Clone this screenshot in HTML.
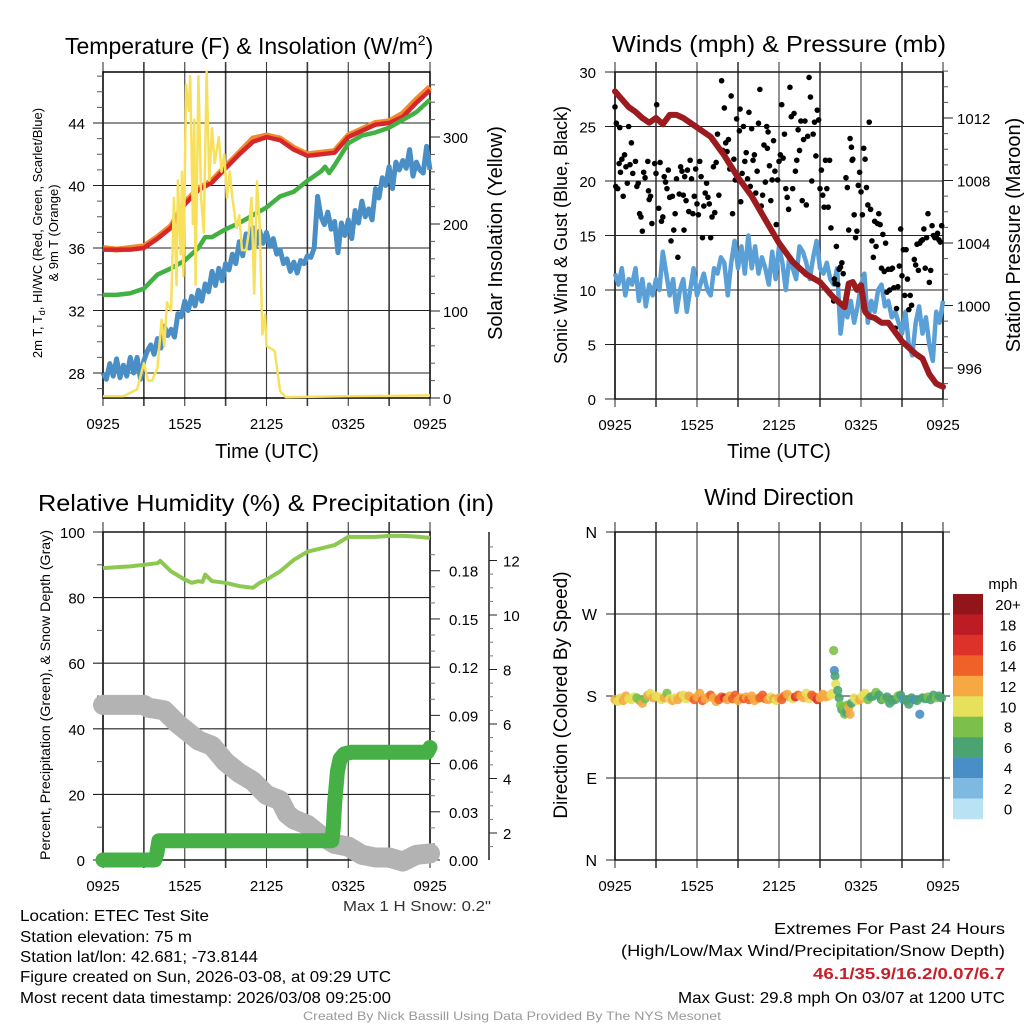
<!DOCTYPE html>
<html><head><meta charset="utf-8"><style>
html,body{margin:0;padding:0;background:#fff;}
svg{display:block;font-family:"Liberation Sans",Arial,sans-serif;}
</style></head><body>
<svg id="c" width="1024" height="1024" viewBox="0 0 1024 1024" xmlns="http://www.w3.org/2000/svg"></svg>
<script>
// ---------- DATA ----------
const tempH=[0,1,2,3,4,5,6,7,8,9,10,11,12,13,14,15,16,17,18,19,20,21,22,23,24];
const tempRed=[35.9,35.9,35.9,36.0,36.6,37.3,38.8,39.7,40.2,41.1,42.0,42.8,43.1,42.9,42.3,41.9,42.0,42.1,43.1,43.5,43.9,44.0,44.4,45.3,46.1];
const tempOrange=[36.0,35.9,36.0,36.1,36.7,37.4,38.9,39.8,40.3,41.2,42.1,43.0,43.2,43.0,42.4,42.0,42.1,42.2,43.2,43.6,44.0,44.1,44.6,45.5,46.3];
const greenH=[0,1,2,3,4,5,6,7,7.5,8,9,10,11,12,13,14,15,16,16.3,16.6,17,18,19,20,21,22,23,24];
const tempGreen=[33.0,33.0,33.1,33.4,34.3,34.7,35.2,36.0,36.7,36.7,37.2,37.6,38.1,38.6,39.3,39.6,40.3,40.9,41.2,40.8,41.3,42.7,43.2,43.4,43.7,44.2,44.7,45.5];
const blueH=[0,0.25,0.5,0.75,1,1.25,1.5,1.75,2,2.25,2.5,2.75,3,3.25,3.5,3.75,4,4.25,4.5,4.75,5,5.25,5.5,5.75,6,6.25,6.5,6.75,7,7.25,7.5,7.75,8,8.25,8.5,8.75,9,9.25,9.5,9.75,10,10.25,10.5,10.75,11,11.25,11.5,11.75,12,12.25,12.5,12.75,13,13.25,13.5,13.75,14,14.25,14.5,14.75,15,15.25,15.5,15.75,16,16.25,16.5,16.75,17,17.25,17.5,17.75,18,18.25,18.5,18.75,19,19.25,19.5,19.75,20,20.25,20.5,20.75,21,21.25,21.5,21.75,22,22.25,22.5,22.75,23,23.25,23.5,23.75,24];
const tempBlue=[28.0,27.6,28.6,27.8,28.9,27.7,28.5,27.8,29.0,28.0,29.0,27.6,28.8,29.4,29.8,29.2,30.2,29.6,31.0,30.4,30.8,30.3,31.8,31.6,32.6,32.0,32.9,32.3,33.3,32.6,33.7,33.2,34.5,33.6,34.7,33.9,35.0,34.6,35.6,35.0,36.4,35.5,36.9,36.0,37.3,36.2,37.1,36.3,37.0,36.1,36.6,35.6,35.9,35.0,35.3,34.5,35.1,34.4,35.2,35.0,35.5,35.4,36.0,39.3,38.0,37.5,38.3,37.2,37.7,35.7,37.6,36.8,37.8,36.6,38.4,37.6,39.0,38.0,38.5,37.8,39.8,39.2,40.5,40.0,41.2,39.8,41.5,41.0,41.6,41.1,42.3,40.6,41.5,41.0,40.8,42.5,41.0,42.3,42.0];
const solarH=[0,1.5,2.5,3.0,3.3,3.6,4.0,4.3,4.5,4.7,5.0,5.2,5.4,5.5,5.7,5.8,5.9,6.1,6.3,6.4,6.6,6.7,6.8,7.0,7.2,7.4,7.6,7.8,8.0,8.2,8.5,8.7,8.9,9.1,9.3,9.5,9.8,10.0,10.2,10.5,10.7,10.9,11.1,11.3,11.5,11.7,11.9,12.0,12.6,13.0,13.4,18,24];
const solarW=[2,2,10,40,20,20,35,90,60,110,100,230,130,250,165,260,140,360,330,370,200,320,130,370,230,190,375,250,310,270,300,260,280,230,260,230,195,210,170,170,190,230,120,249,200,73,96,60,54,8,1,2,3];
const windH=[0,0.25,0.5,0.75,1,1.25,1.5,1.75,2,2.25,2.5,2.75,3,3.25,3.5,3.75,4,4.25,4.5,4.75,5,5.25,5.5,5.75,6,6.25,6.5,6.75,7,7.25,7.5,7.75,8,8.25,8.5,8.75,9,9.25,9.5,9.75,10,10.25,10.5,10.75,11,11.25,11.5,11.75,12,12.25,12.5,12.75,13,13.25,13.5,13.75,14,14.25,14.5,14.75,15,15.25,15.5,15.75,16,16.25,16.5,16.75,17,17.25,17.5,17.75,18,18.25,18.5,18.75,19,19.25,19.5,19.75,20,20.25,20.5,20.75,21,21.25,21.5,21.75,22,22.25,22.5,22.75,23,23.25,23.5,23.75,24];
const windV=[11.5,10.5,12,9.5,11,10.5,12,9,11,8.5,10.5,9.5,11,10,13.5,11.5,9.5,11,8,10,11,8,10,12,9.5,10.5,11.5,10,9.5,12,11.5,13,12.5,9.5,12.5,14.5,12,14,11.5,15,12,14,11.5,13,12,10.5,13.5,11,14,12.5,10,13,12,11,14,13.5,12.5,11,13,14.5,12,11.5,12.5,11,10.5,12,6,8.5,7.5,9,7,8.5,10.5,11.5,7,9,8,10,10.5,8.5,9,7.5,8,7,6,8,5,4,7,8.5,6,7.5,5,3.5,8,7,9,10,6];
const presH=[0,0.5,1,1.5,2,2.5,3,3.5,4,4.5,5,6,7,8,9,10,11,12,13,14,15,16,16.8,17.1,17.4,17.7,18,18.3,18.6,19,19.5,20,21,22,22.5,23,23.5,24];
const presV=[1013.7,1013.2,1012.7,1012.4,1012.0,1011.7,1012.0,1011.6,1012.2,1012.2,1012.0,1011.4,1010.8,1009.6,1008.2,1007.0,1005.5,1004.0,1002.8,1002.0,1001.5,1000.5,999.9,1001.4,1001.5,1001.0,1001.3,999.6,999.3,999.2,998.9,998.9,997.7,996.9,996.6,995.6,995.0,994.8];
const gustH=[0,0.05,0.1,0.2,0.3,0.35,0.4,0.5,0.6,0.7,0.8,0.9,1.0,1.1,1.2,1.3,1.5,1.6,1.7,1.8,1.9,2.0,2.1,2.2,2.4,2.45,2.5,2.6,2.7,2.9,3.0,3.05,3.2,3.3,3.4,3.5,3.6,3.7,3.8,3.9,4.0,4.1,4.2,4.3,4.4,4.5,4.6,4.7,4.8,4.9,5.0,5.05,5.1,5.2,5.3,5.4,5.5,5.6,5.7,5.8,5.9,6.0,6.1,6.2,6.3,6.4,6.5,6.6,6.7,6.8,6.9,7.0,7.1,7.2,7.3,7.4,7.5,7.6,7.8,7.9,8.0,8.1,8.2,8.3,8.4,8.5,8.6,8.7,8.8,8.9,9.0,9.1,9.15,9.2,9.3,9.4,9.5,9.6,9.7,9.8,9.9,10.0,10.1,10.2,10.3,10.4,10.5,10.6,10.7,10.8,10.9,11.0,11.1,11.15,11.2,11.3,11.4,11.5,11.6,11.7,11.8,11.9,12.0,12.1,12.2,12.3,12.4,12.5,12.6,12.7,12.8,12.9,13.0,13.1,13.2,13.3,13.4,13.5,13.6,13.7,13.8,13.9,14.0,14.1,14.2,14.3,14.4,14.5,14.6,14.7,14.8,14.9,15.0,15.1,15.2,15.3,15.4,15.5,15.6,15.7,15.8,16.0,16.05,16.1,16.2,16.3,16.4,16.5,16.6,16.7,16.9,17.0,17.1,17.2,17.3,17.35,17.4,17.5,17.6,17.7,17.8,17.9,18.0,18.1,18.2,18.3,18.4,18.5,18.6,18.7,18.8,18.9,19.0,19.1,19.2,19.3,19.4,19.5,19.6,19.7,19.8,19.9,20.0,20.1,20.2,20.3,20.4,20.5,20.6,20.7,20.8,20.9,21.0,21.1,21.2,21.3,21.4,21.5,21.6,21.7,21.9,22.0,22.1,22.2,22.3,22.4,22.5,22.6,22.7,22.8,22.9,23.0,23.1,23.2,23.3,23.4,23.5,23.6,23.7,23.8,23.9];
const gustV=[26.8,19.5,25.3,19.3,21.6,24.9,20.8,22.0,18.6,22.4,21.3,19.8,25.0,21.5,23.5,20.7,21.8,19.5,19.8,17.0,16.7,15.4,20.8,20.3,21.8,19.1,18.3,18.6,16.1,21.6,20.7,27.0,17.5,21.7,16.3,16.7,20.4,19.9,19.3,21.0,18.5,14.5,18.6,15.5,17.0,20.2,13.0,18.8,21.3,20.9,18.7,15.5,20.4,18.2,21.0,17.2,21.9,20.2,17.0,18.6,21.1,17.9,16.9,21.8,20.4,14.8,17.7,18.9,19.8,18.5,17.9,14.8,16.7,21.3,17.1,21.7,24.3,18.7,29.2,22.8,26.7,23.5,22.7,23.8,21.1,27.8,17.0,22.0,20.1,25.7,20.1,24.6,26.6,18.1,20.7,25.0,21.8,22.6,20.2,26.3,19.5,24.8,21.9,22.4,18.9,20.9,25.3,28.4,17.7,18.7,23.3,19.9,25.0,23.0,24.5,21.4,18.2,20.1,23.7,20.9,16.0,20.1,21.8,22.4,27.0,22.1,24.3,19.3,18.5,17.4,28.6,25.9,19.3,26.2,20.9,21.9,24.7,22.8,25.5,18.2,23.8,25.5,17.8,24.1,29.5,27.7,20.0,24.3,25.4,22.3,26.5,25.6,19.3,21.0,18.7,17.6,21.9,19.3,17.6,21.9,15.7,9.0,11.0,10.6,14.0,10.5,11.9,12.1,12.5,11.5,20.3,19.4,15.5,23.9,23.1,21.9,22.0,16.9,14.8,15.4,19.6,20.8,19.0,16.9,23.0,22.0,19.4,17.8,25.4,17.4,14.5,13.0,16.3,14.0,16.1,17.0,16.0,12.0,15.1,11.7,14.3,9.8,11.9,10.0,11.9,12.0,10.2,6.5,8.3,10.3,12.2,15.6,11.3,13.7,9.5,13.7,11.0,8.2,9.5,8.6,12.8,12.3,14.2,11.8,14.3,14.5,14.6,15.6,12.0,14.8,17.0,10.7,11.8,15.9,15.0,14.8,14.9,15.2,14.6,14.4,15.9];
const rhH=[0,2,3,4,4.2,5,6,6.5,7,7.3,7.5,8,9,10,11,11.5,12,13,14,15,16,17,18,19,20,21,22,23,24];
const rhV=[89,89.5,90,90.5,91.2,88,85.5,84.5,85,84.8,87,85,84.5,83.5,83,84.5,85.5,88,91.5,94,95,96,98.5,98.5,98.5,98.8,98.8,98.6,98.2];
const prH=[0,3.8,3.95,4.1,16.8,16.9,17.0,17.1,17.2,17.4,17.7,18.2,23.8,24];
const prV=[0,0,0.004,0.012,0.012,0.02,0.035,0.045,0.055,0.063,0.066,0.067,0.067,0.07];
const snH=[0,3,3.3,4.5,5.5,7,8,9,10,11,12,13,13.5,14,15,16,17,18,19,20,21,22,23,24];
const snV=[6.7,6.7,6.6,6.5,6.0,5.4,5.2,4.6,4.2,3.9,3.4,3.2,2.7,2.5,2.3,1.9,1.6,1.5,1.2,1.1,1.1,0.95,1.2,1.25];
const dirH=[0,0.2,0.4,0.6,0.8,1.0,1.2,1.4,1.6,1.8,2.0,2.2,2.4,2.6,2.8,3.0,3.2,3.4,3.6,3.8,4.0,4.2,4.4,4.6,4.8,5.0,5.2,5.4,5.6,5.8,6.0,6.2,6.4,6.6,6.8,7.0,7.2,7.4,7.6,7.8,8.0,8.2,8.4,8.6,8.8,9.0,9.2,9.4,9.6,9.8,10.0,10.2,10.4,10.6,10.8,11.0,11.2,11.4,11.6,11.8,12.0,12.2,12.4,12.6,12.8,13.0,13.2,13.4,13.6,13.8,14.0,14.2,14.4,14.6,14.8,15.0,15.2,15.4,15.6,15.8,15.9,16.0,16.05,16.1,16.15,16.3,16.4,16.5,16.6,16.7,16.8,16.9,17.0,17.1,17.2,17.3,17.5,17.7,17.9,18.1,18.3,18.5,18.7,18.9,19.1,19.3,19.5,19.7,19.9,20.1,20.3,20.5,20.7,20.9,21.1,21.3,21.5,21.7,21.9,22.1,22.3,22.5,22.7,22.9,23.1,23.3,23.5,23.7,23.9];
const dirD=[176,174,178,175,180,177,176,179,178,175,172,177,181,183,178,180,179,176,178,183,177,175,178,176,180,181,177,180,178,176,179,183,175,177,179,181,178,174,176,179,178,176,180,177,181,175,178,177,179,176,180,175,177,178,181,177,176,179,177,175,178,176,180,182,179,177,179,181,180,178,183,177,181,179,176,178,182,179,180,181,183,230,208,202,193,186,178,170,165,168,160,162,170,167,160,172,178,175,176,180,183,176,179,180,184,181,176,177,179,172,175,176,180,181,176,175,171,178,176,175,160,178,177,179,176,181,178,180,178];
const dirS=[12,11,10,12,12,10,11,10,8,9,12,8,12,10,12,11,10,10,12,9,11,12,10,12,12,10,11,12,13,14,12,12,15,13,12,14,13,12,14,15,16,12,13,15,14,12,13,14,12,15,13,12,12,15,14,15,13,11,12,10,12,14,15,13,12,11,16,15,13,12,11,10,14,15,16,13,12,12,12,11,10,8,4,6,11,6,7,8,6,9,8,7,8,12,12,6,10,11,12,10,11,8,6,7,8,6,7,8,7,6,6,7,8,6,4,7,6,7,5,6,4,7,7,8,7,6,8,7,7];
const cbLabels=["20+","18","16","14","12","10","8","6","4","2","0"];
const cbColors=["#921519","#bd1c24","#dc3229","#ef6128","#f6a843","#e6e05a","#7cc04b","#4aa472","#4a8ec6","#7eb9e2","#b9e2f5"];
const xTickLabels=["0925","1525","2125","0325","0925"];
const tempTicks=[28,32,36,40,44];
const solarTicks=[0,100,200,300];
const windTicks=[0,5,10,15,20,25,30];
const presTicks=[996,1000,1004,1008,1012];
const rhTicks=[0,20,40,60,80,100];
const prTicks=[0,0.03,0.06,0.09,0.12,0.15,0.18];
const snTicks=[2,4,6,8,10,12];
const dirTicks=[0,90,180,270,360];
const dirLabels=["N","E","S","W","N"];

// ---------- HELPERS ----------
const NS="http://www.w3.org/2000/svg";
const svg=document.getElementById('c');
function mk(tag,at,parent){const e=document.createElementNS(NS,tag);for(const k in at)e.setAttribute(k,at[k]);(parent||svg).appendChild(e);return e;}
function txt(s,at,parent){const e=mk('text',at,parent);e.textContent=s;return e;}
function poly(xs,ys,fx,fy){return xs.map((h,i)=>fx(h).toFixed(1)+','+fy(ys[i]).toFixed(1)).join(' ');}

// scales
const X1=h=>103+h*13.625, T1=v=>373-(v-28)*15.625, S1=w=>398-w*0.87;
const X2=h=>615+h*13.667, W2=v=>399-v*10.9, P2=p=>118+(1012-p)*15.625;
const RH3=v=>860-v*3.28, PR3=v=>860-v*1607, SN3=v=>833-(v-2)*27.25;
const D4=d=>860-d*0.9111;

function frame(x0,x1,y0,y1,Xf,name){
  const g=mk('g',{});
  
  
  for(let h=0;h<=24;h+=3){const x=Xf(h);
    mk('line',{x1:x,y1:y0-10,x2:x,y2:y1+8,stroke:'#3a3a3a','stroke-width':h%6?1.6:1.1},g);}
  mk('rect',{x:x0,y:y0,width:x1-x0,height:y1-y0,fill:'none',stroke:'#000','stroke-width':1.5},g);
  xTickLabels.forEach((l,i)=>{const t=txt(l,{x:Xf(i*6),y:y1+31,'text-anchor':'middle','font-size':15},g);
    
    });
}

// ---------- PANEL 1 ----------
frame(103,430,72,398,X1,'temp-panel');
tempTicks.forEach(v=>{mk('line',{x1:93,x2:430,y1:T1(v),y2:T1(v),stroke:'#222','stroke-width':1.1});
  const t=txt(v,{x:85,y:T1(v)+6,'text-anchor':'end','font-size':15});
  
  });
for(let v=27;v<=47;v++){if(v%4)mk('line',{x1:97,x2:103,y1:T1(v),y2:T1(v),stroke:'#555'});}
solarTicks.forEach(v=>{mk('line',{x1:430,x2:440,y1:S1(v),y2:S1(v),stroke:'#222'});
  const t=txt(v,{x:443,y:S1(v)+6,'font-size':15});
  
  });
for(let v=20;v<=360;v+=20){if(v%100)mk('line',{x1:430,x2:435,y1:S1(v),y2:S1(v),stroke:'#555'});}
let e;
e=mk('polyline',{points:poly(tempH,tempOrange,X1,T1),fill:'none',stroke:'#f08a2c','stroke-width':6,'stroke-linejoin':'round'});


e=mk('polyline',{points:poly(tempH,tempRed,X1,T1),fill:'none',stroke:'#d7262a','stroke-width':4.5,'stroke-linejoin':'round'});


e=mk('polyline',{points:poly(greenH,tempGreen,X1,T1),fill:'none',stroke:'#43b043','stroke-width':4.5,'stroke-linejoin':'round'});


e=mk('polyline',{points:poly(blueH,tempBlue,X1,T1),fill:'none',stroke:'#4a8ec6','stroke-width':5,'stroke-linejoin':'round'});


e=mk('polyline',{points:poly(solarH,solarW,X1,S1),fill:'none',stroke:'#f7e15c','stroke-width':2.5,'stroke-linejoin':'round'});



// ---------- PANEL 2 ----------
frame(615,943,72,399,X2,'wind-panel');
windTicks.forEach(v=>{mk('line',{x1:605,x2:943,y1:W2(v),y2:W2(v),stroke:'#222','stroke-width':1.1});
  const t=txt(v,{x:596,y:W2(v)+6,'text-anchor':'end','font-size':15});
  
  });
presTicks.forEach(p=>{mk('line',{x1:943,x2:953,y1:P2(p),y2:P2(p),stroke:'#222'});
  const t=txt(p,{x:957,y:P2(p)+6,'font-size':15});
  
  });
for(let p=994;p<=1015;p++){if(p%4)mk('line',{x1:943,x2:948,y1:P2(p),y2:P2(p),stroke:'#555'});}
e=mk('polyline',{points:poly(windH,windV,X2,W2),fill:'none',stroke:'#5a9fd6','stroke-width':4.5,'stroke-linejoin':'round'});


gustH.forEach((h,i)=>{const c=mk('circle',{cx:X2(h),cy:W2(gustV[i]),r:2.8,fill:'#000'});
  
  });
e=mk('polyline',{points:poly(presH,presV,X2,P2),fill:'none',stroke:'#9b1b1e','stroke-width':6,'stroke-linejoin':'round','stroke-linecap':'round'});



// ---------- PANEL 3 ----------
frame(103,430,532,860,X1,'rh-panel');
rhTicks.forEach(v=>{mk('line',{x1:93,x2:430,y1:RH3(v),y2:RH3(v),stroke:'#222','stroke-width':1.1});
  const t=txt(v,{x:85,y:RH3(v)+6,'text-anchor':'end','font-size':15});
  
  });
for(let v=10;v<100;v+=20)mk('line',{x1:97,x2:103,y1:RH3(v),y2:RH3(v),stroke:'#555'});
prTicks.forEach(v=>{mk('line',{x1:430,x2:440,y1:PR3(v),y2:PR3(v),stroke:'#222'});
  const t=txt(v.toFixed(2),{x:449,y:PR3(v)+6,'font-size':15});
  
  });
for(let v=0.01;v<0.2;v+=0.01){if(Math.round(v*100)%3)mk('line',{x1:430,x2:435,y1:PR3(v),y2:PR3(v),stroke:'#777'});}
e=mk('line',{x1:489,x2:489,y1:532,y2:860,stroke:'#222','stroke-width':1.5});


snTicks.forEach(v=>{mk('line',{x1:489,x2:497,y1:SN3(v),y2:SN3(v),stroke:'#222'});
  const t=txt(v,{x:503,y:SN3(v)+6,'font-size':15});
  
  });
for(let v=1.5;v<13;v+=0.5){if(v%2)mk('line',{x1:489,x2:493,y1:SN3(v),y2:SN3(v),stroke:'#777'});}
e=mk('polyline',{points:poly(snH,snV,X1,SN3),fill:'none',stroke:'#b3b3b3','stroke-width':20,'stroke-linejoin':'round','stroke-linecap':'round'});


e=mk('polyline',{points:poly(prH,prV,X1,PR3),fill:'none',stroke:'#46b046','stroke-width':15,'stroke-linejoin':'round','stroke-linecap':'round'});


e=mk('polyline',{points:poly(rhH,rhV,X1,RH3),fill:'none',stroke:'#8dc850','stroke-width':4,'stroke-linejoin':'round'});



// ---------- PANEL 4 ----------
frame(615,943,532,860,X2,'direction-panel');
dirTicks.forEach((d,i)=>{mk('line',{x1:606,x2:950,y1:D4(d),y2:D4(d),stroke:'#222','stroke-width':1.1});
  const t=txt(dirLabels[i],{x:597,y:D4(d)+6,'text-anchor':'end','font-size':16});
  
  });
function spdColor(s){let k=Math.min(10,Math.floor(s/2));return cbColors[10-k];}
dirH.forEach((h,i)=>{const c=mk('circle',{cx:X2(h),cy:D4(dirD[i]),r:4.6,fill:spdColor(dirS[i]),'fill-opacity':0.9});
  
  });
txt('mph',{x:1003,y:589,'text-anchor':'middle','font-size':15});
cbLabels.forEach((l,i)=>{const r=mk('rect',{x:953,y:594+i*20.45,width:30,height:20.7,fill:cbColors[i]});
  
  
  const t=txt(l,{x:1008,y:594+i*20.45+16,'text-anchor':'middle','font-size':15});
  
  });

// ---------- TITLES ----------
function T(s,at,name,len){const t=txt(s,at);if(len){t.setAttribute('textLength',len);t.setAttribute('lengthAdjust','spacingAndGlyphs');}
  return t;}
let tt=T('',{x:65,y:54,'font-size':23},'temp-title');

tt.innerHTML='Temperature (F) &amp; Insolation (W/m<tspan font-size="14" dy="-9">2</tspan><tspan dy="9">)</tspan>';
tt=T('Winds (mph) & Pressure (mb)',{x:612,y:52,'font-size':23},'wind-title',334);

tt=T('Relative Humidity (%) & Precipitation (in)',{x:38,y:511,'font-size':23},'rh-title',456);

tt=T('Wind Direction',{x:779,y:505,'text-anchor':'middle','font-size':23},'direction-title');

[[267,458],[779,458]].forEach(p=>{const t=T('Time (UTC)',{x:p[0],y:p[1],'text-anchor':'middle','font-size':20},'x-axis-title');
  });
tt=T('2m T, T',{transform:'translate(42,233) rotate(-90)','text-anchor':'middle','font-size':13},'temp-y-title');

tt.innerHTML='2m T, T<tspan font-size="9" dy="3">d</tspan><tspan dy="-3">, HI/WC (Red, Green, Scarlet/Blue)</tspan>';
tt=T('& 9m T (Orange)',{transform:'translate(58,233) rotate(-90)','text-anchor':'middle','font-size':13},'temp-y-title-2');

tt=T('Solar Insolation (Yellow)',{transform:'translate(502,233) rotate(-90)','text-anchor':'middle','font-size':20},'solar-y-title');

tt=T('Sonic Wind & Gust (Blue, Black)',{transform:'translate(567,235) rotate(-90)','text-anchor':'middle','font-size':18},'wind-y-title');

tt=T('Station Pressure (Maroon)',{transform:'translate(1020,235) rotate(-90)','text-anchor':'middle','font-size':20},'pressure-y-title');

tt=T('Percent, Precipitation (Green), & Snow Depth (Gray)',{transform:'translate(50,695) rotate(-90)','text-anchor':'middle','font-size':14},'rh-y-title',330);

tt=T('Direction (Colored By Speed)',{transform:'translate(567,695) rotate(-90)','text-anchor':'middle','font-size':19},'direction-y-title');


// ---------- FOOTER TEXT ----------
const info=[["Location: ETEC Test Site",189,921],["Station elevation: 75 m",172,942],["Station lat/lon: 42.681; -73.8144",238,962],["Figure created on Sun, 2026-03-08, at 09:29 UTC",371,982],["Most recent data timestamp: 2026/03/08 09:25:00",371,1003]];
info.forEach(r=>{const t=T(r[0],{x:20,y:r[2],'font-size':16},'station-info-line',r[1]);
  });
tt=T('Max 1 H Snow: 0.2"',{x:343,y:911,'font-size':15,fill:'#333'},'max-snow-note',148);

const ext=[["Extremes For Past 24 Hours",231,934,'#000','normal'],["(High/Low/Max Wind/Precipitation/Snow Depth)",384,956,'#000','normal'],["46.1/35.9/16.2/0.07/6.7",192,979,'#c8202a','bold'],["Max Gust: 29.8 mph On 03/07 at 1200 UTC",327,1003,'#000','normal']];
ext.forEach(r=>{const t=T(r[0],{x:1005-r[1],y:r[2],'font-size':16,fill:r[3],'font-weight':r[4]},'extremes-line',r[1]);
  });
tt=T('Created By Nick Bassill Using Data Provided By The NYS Mesonet',{x:303,y:1020,'font-size':12,fill:'#999'},'credits',418);

</script>
</body></html>
